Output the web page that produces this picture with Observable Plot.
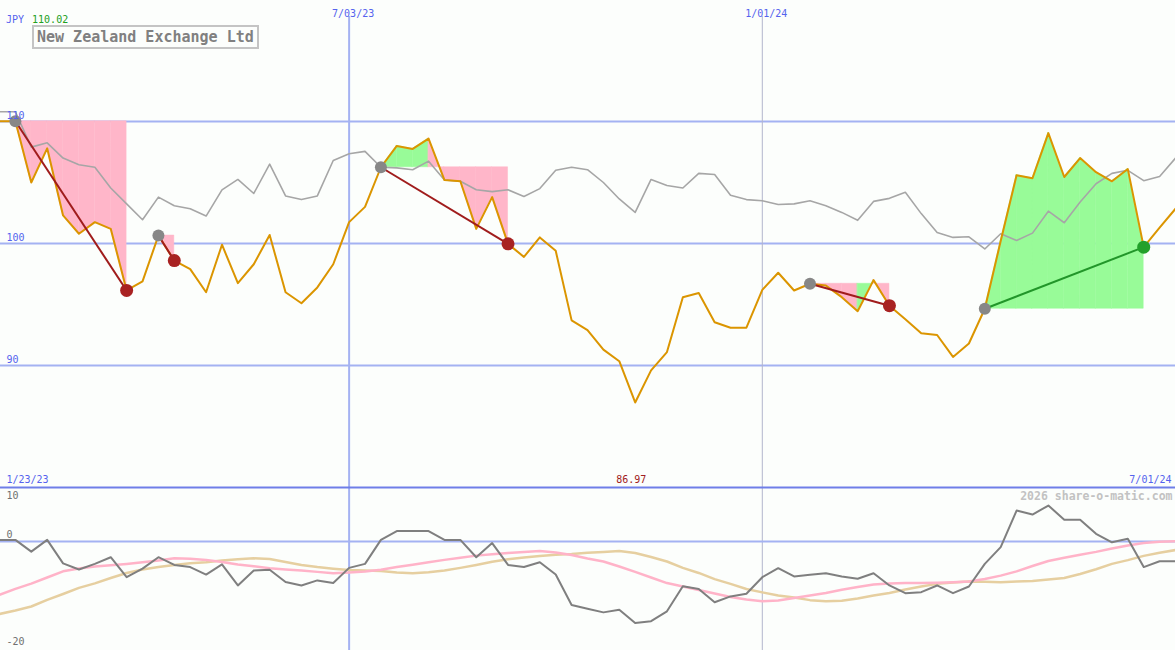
<!DOCTYPE html>
<html>
<head>
<meta charset="utf-8">
<script src="https://cdn.jsdelivr.net/npm/d3@7"></script>
<script src="https://cdn.jsdelivr.net/npm/@observablehq/plot@0.6"></script>
<style>
  html, body { margin: 0; padding: 0; background: #fcfefc; }
  #wrap { position: relative; width: 1175px; height: 650px; overflow: hidden; background: #fcfefc; font-family: "DejaVu Sans Mono", monospace; }
  #wrap svg { position: absolute; left: 0; top: 0; }
  #cur { position: absolute; left: 6px; top: 14px; font-size: 10px; line-height: 12px; z-index: 3; }
  #cur .ccy { color: #5563ee; }
  #cur .val { color: #22a022; margin-left: 8px; }
  #title { position: absolute; left: 32px; top: 25px; width: 227px; height: 24px; box-sizing: border-box;
           border: 2px solid #c4c4c4; color: #808080; font-size: 15px; font-weight: bold; line-height: 20px;
           padding-left: 3px; z-index: 3; white-space: nowrap; }
</style>
</head>
<body>
<div id="wrap">
  <div id="cur"><span class="ccy"></span><span class="val"></span></div>
  <div id="title"></div>
</div>
<script>
// ---------------- data ----------------
const companyName = "New Zealand Exchange Ltd";
const currency = "JPY";
const firstWeek = "2023-01-30";          // weekly series, one value per Monday
const rangeStartLabel = "1/23/23";
const rangeEndLabel = "7/01/24";
const dateLines = ["2023-07-03", "2024-01-01"];
const dateLineLabels = ["7/03/23", "1/01/24"];
const priceGrid = [110, 100, 90];
const oscLabelsTop = [10];
const oscLabelsBottom = [0, -20];
const watermark = "2026 share-o-matic.com";

// share price (orange)
const price = [110.02, 110.02, 105.0, 107.8, 102.3, 100.8, 101.75, 101.2, 96.15, 96.9, 100.65, 98.6, 97.9, 96.0, 99.9,
  96.75, 98.3, 100.7, 96.0, 95.1, 96.4, 98.3, 101.75, 103.0, 106.25, 108.0, 107.75, 108.6, 105.2, 105.1, 101.2, 103.8,
  99.97, 98.9, 100.5, 99.4, 93.7, 92.9, 91.3, 90.35, 86.97, 89.6, 91.1, 95.6, 95.95, 93.55, 93.1, 93.1, 96.2, 97.6,
  96.15, 96.7, 96.55, 95.6, 94.45, 97.0, 94.9, 93.8, 92.65, 92.5, 90.7, 91.8, 94.65, 100.2, 105.6, 105.35, 109.05,
  105.45, 107.0, 105.85, 105.1, 106.1, 99.7, 101.3, 102.85];

// market comparison (grey)
const market = [110.8, 110.8, 107.9, 108.25, 107.0, 106.45, 106.25, 104.55, 103.25, 101.95, 103.8, 103.1, 102.85,
  102.25, 104.4, 105.25, 104.1, 106.5, 103.9, 103.6, 103.9, 106.8, 107.35, 107.55, 106.25, 106.2, 106.05, 106.75,
  105.2, 105.1, 104.4, 104.25, 104.4, 103.85, 104.5, 106.0, 106.25, 106.05, 105.0, 103.65, 102.55, 105.25, 104.75,
  104.55, 105.75, 105.65, 103.95, 103.6, 103.5, 103.2, 103.25, 103.5, 103.1, 102.55, 101.9, 103.45, 103.7, 104.2,
  102.45, 100.9, 100.5, 100.55, 99.55, 100.8, 100.25, 100.85, 102.65, 101.7, 103.4, 104.9, 105.75, 106.0, 105.15,
  105.5, 107.0];

// oscillator (dark grey) and its two averages (pink, tan)
const osc = [0.3, 0.3, -1.9, 0.3, -4.1, -5.25, -4.2, -2.95, -6.7, -5.1, -2.95, -4.4, -4.8, -6.2, -4.3, -8.25, -5.45,
  -5.3, -7.6, -8.25, -7.3, -7.8, -4.95, -4.2, 0.3, 1.95, 1.95, 1.95, 0.3, 0.3, -2.95, -0.3, -4.4, -4.8, -3.9, -6.2,
  -11.9, -12.6, -13.3, -12.8, -15.3, -14.95, -13.1, -8.4, -8.9, -11.4, -10.3, -9.8, -6.7, -5.0, -6.55, -6.25, -5.95,
  -6.55, -7.0, -5.95, -8.25, -9.7, -9.5, -8.25, -9.7, -8.45, -4.2, -1.05, 5.8, 5.05, 6.75, 4.1, 4.1, 1.45, -0.15,
  0.5, -4.8, -3.7, -3.7];
const oscFast = [-10.0, -8.9, -7.9, -6.75, -5.6, -5.05, -4.7, -4.45, -4.2, -3.9, -3.55, -3.15, -3.25, -3.45, -3.85,
  -4.3, -4.65, -5.0, -5.25, -5.45, -5.7, -5.95, -5.8, -5.65, -5.3, -4.8, -4.35, -3.9, -3.45, -3.05, -2.65, -2.4,
  -2.15, -1.95, -1.8, -2.05, -2.55, -3.2, -3.75, -4.7, -5.7, -6.75, -7.8, -8.45, -9.1, -9.75, -10.4, -10.9, -11.2,
  -11.05, -10.6, -10.15, -9.65, -9.05, -8.55, -8.05, -7.9, -7.8, -7.8, -7.75, -7.65, -7.5, -7.05, -6.4, -5.6, -4.6,
  -3.65, -3.05, -2.5, -1.95, -1.3, -0.75, -0.3, -0.05, 0.05];
const oscSlow = [-13.6, -12.95, -12.2, -10.95, -9.85, -8.7, -7.85, -6.85, -5.9, -5.25, -4.8, -4.4, -4.1, -3.9, -3.55,
  -3.35, -3.15, -3.3, -3.85, -4.4, -4.8, -5.1, -5.35, -5.45, -5.55, -5.8, -5.95, -5.75, -5.45, -4.95, -4.4, -3.8,
  -3.35, -3.0, -2.7, -2.5, -2.35, -2.1, -1.95, -1.8, -2.15, -2.9, -3.75, -4.95, -5.9, -7.05, -7.95, -8.9, -9.55,
  -10.15, -10.5, -11.0, -11.2, -11.1, -10.7, -10.15, -9.65, -9.0, -8.45, -7.95, -7.7, -7.5, -7.55, -7.65, -7.5, -7.4,
  -7.15, -6.85, -6.1, -5.2, -4.2, -3.5, -2.7, -2.1, -1.6];

// trade signals (entry week, exit week)
const tradeEntries = ["2023-02-06", "2023-04-10", "2023-07-17", "2024-01-22", "2024-04-08"];
const tradeExits   = ["2023-03-27", "2023-04-17", "2023-09-11", "2024-02-26", "2024-06-17"];

// ---------------- build tables ----------------
const WEEK = 7 * 864e5;
const t0 = new Date(firstWeek + "T00:00:00Z");
const dates = price.map((_, i) => new Date(t0.getTime() + i * WEEK));
const idxOf = s => Math.round((new Date(s + "T00:00:00Z") - t0) / WEEK);
const rows = price.map((v, i) => ({date: dates[i], price: v, market: market[i], osc: osc[i], fast: oscFast[i], slow: oscSlow[i]}));

const PINK = "#ffb6c9", GREEN = "#98fb98";
const segs = [];
const trades = tradeEntries.map((s, k) => {
  const a = idxOf(s), b = idxOf(tradeExits[k]);
  const base = price[a];
  for (let i = a; i < b; i++) {
    const col = price[i + 1] >= base ? GREEN : PINK;
    const id = k + "-" + i;
    segs.push({date: dates[i], v: price[i], base, id, col});
    segs.push({date: dates[i + 1], v: price[i + 1], base, id, col});
  }
  const gain = price[b] >= base;
  return {d1: dates[a], v1: base, d2: dates[b], v2: price[b],
          link: gain ? "#22962a" : "#a01c1c", dot: gain ? "#22a02a" : "#a82222"};
});

const minI = d3.minIndex(price);
const maxV = d3.max(price);
const lines = dateLines.map((s, i) => ({date: new Date(s + "T00:00:00Z"), label: dateLineLabels[i]}));

document.querySelector("#cur .ccy").textContent = currency;
document.querySelector("#cur .val").textContent = maxV.toFixed(2);
document.getElementById("title").textContent = companyName;

const FONT = "DejaVu Sans Mono, monospace";
const BLUE_TXT = "#5563ee";
const GRID = "#a4b2f2";
const xScale = {type: "utc", domain: [dates[0], dates[dates.length - 1]], range: [-1, 1175], axis: null};
const yTop = 119.918, yBot = 80;

// ---------------- price panel ----------------
const topChart = Plot.plot({
  width: 1175, height: 650, margin: 0,
  style: {background: "transparent", overflow: "visible"},
  x: xScale,
  y: {domain: [yBot, yTop], range: [487, 0], axis: null},
  marks: [
    Plot.ruleY(priceGrid, {stroke: GRID, strokeWidth: 2}),
    Plot.ruleX(lines.slice(0, 1), {x: "date", stroke: GRID, strokeWidth: 2, insetTop: 16}),
    Plot.ruleX(lines.slice(1), {x: "date", stroke: "#b2b6cc", strokeWidth: 1, insetTop: 16}),
    Plot.ruleY([yBot], {stroke: "#6f7ee8", strokeWidth: 2}),
    Plot.areaY(segs, {x: "date", y1: "base", y2: "v", z: "id", fill: "col", stroke: "col", strokeWidth: 0.5}),
    Plot.line(rows, {x: "date", y: "market", stroke: "#a6a6a6", strokeWidth: 1.6}),
    Plot.line(rows, {x: "date", y: "price", stroke: "#db9500", strokeWidth: 2}),
    Plot.link(trades, {x1: "d1", y1: "v1", x2: "d2", y2: "v2", stroke: "link", strokeWidth: 2}),
    Plot.dot(trades, {x: "d1", y: "v1", r: 6, fill: "#878787"}),
    Plot.dot(trades, {x: "d2", y: "v2", r: 6.5, fill: "dot"}),
    Plot.text(priceGrid, {y: d => d, text: d => String(d), frameAnchor: "left", dx: 6, dy: -6, textAnchor: "start",
      fill: BLUE_TXT, fontSize: 10, fontFamily: FONT}),
    Plot.text(lines, {x: "date", text: "label", frameAnchor: "top", dy: 9, dx: 4, fill: BLUE_TXT, fontSize: 10, fontFamily: FONT}),
    Plot.text([{v: yBot, label: rangeStartLabel}], {y: "v", text: "label", frameAnchor: "left", dx: 6, dy: -8,
      textAnchor: "start", fill: BLUE_TXT, fontSize: 10, fontFamily: FONT}),
    Plot.text([{v: yBot, label: rangeEndLabel}], {y: "v", text: "label", frameAnchor: "right", dx: -4, dy: -8,
      textAnchor: "end", fill: BLUE_TXT, fontSize: 10, fontFamily: FONT}),
    Plot.text([{date: dates[minI], v: yBot, label: price[minI].toFixed(2)}], {x: "date", y: "v", text: "label", dy: -8,
      dx: -4, fill: "#a02020", fontSize: 10, fontFamily: FONT})
  ]
});

// ---------------- oscillator panel ----------------
const oTop = 10.13, oBot = -20.45;
const botChart = Plot.plot({
  width: 1175, height: 650, margin: 0,
  style: {background: "transparent", overflow: "visible"},
  x: xScale,
  y: {domain: [oBot, oTop], range: [650, 487], axis: null},
  marks: [
    Plot.ruleY([0], {stroke: GRID, strokeWidth: 2}),
    Plot.line(rows, {x: "date", y: "slow", stroke: "#e6cfa0", strokeWidth: 2.5}),
    Plot.line(rows, {x: "date", y: "fast", stroke: "#ffb3c8", strokeWidth: 2.5}),
    Plot.line(rows, {x: "date", y: "osc", stroke: "#7f7f7f", strokeWidth: 2}),
    Plot.text(oscLabelsTop, {y: d => d, text: d => String(d), frameAnchor: "left", dx: 6, dy: 8, textAnchor: "start",
      fill: "#707070", fontSize: 10, fontFamily: FONT}),
    Plot.text(oscLabelsBottom, {y: d => d, text: d => String(d), frameAnchor: "left", dx: 6, dy: -6.5, textAnchor: "start",
      fill: "#707070", fontSize: 10, fontFamily: FONT}),
    Plot.text([{v: oTop, label: watermark}], {y: "v", text: "label", frameAnchor: "right", dx: -3, dy: 9,
      textAnchor: "end", fill: "#c2c2c2", fontSize: 11.5, fontWeight: "bold", fontFamily: FONT})
  ]
});

const wrap = document.getElementById("wrap");
wrap.appendChild(topChart);
wrap.appendChild(botChart);
</script>
</body>
</html>
